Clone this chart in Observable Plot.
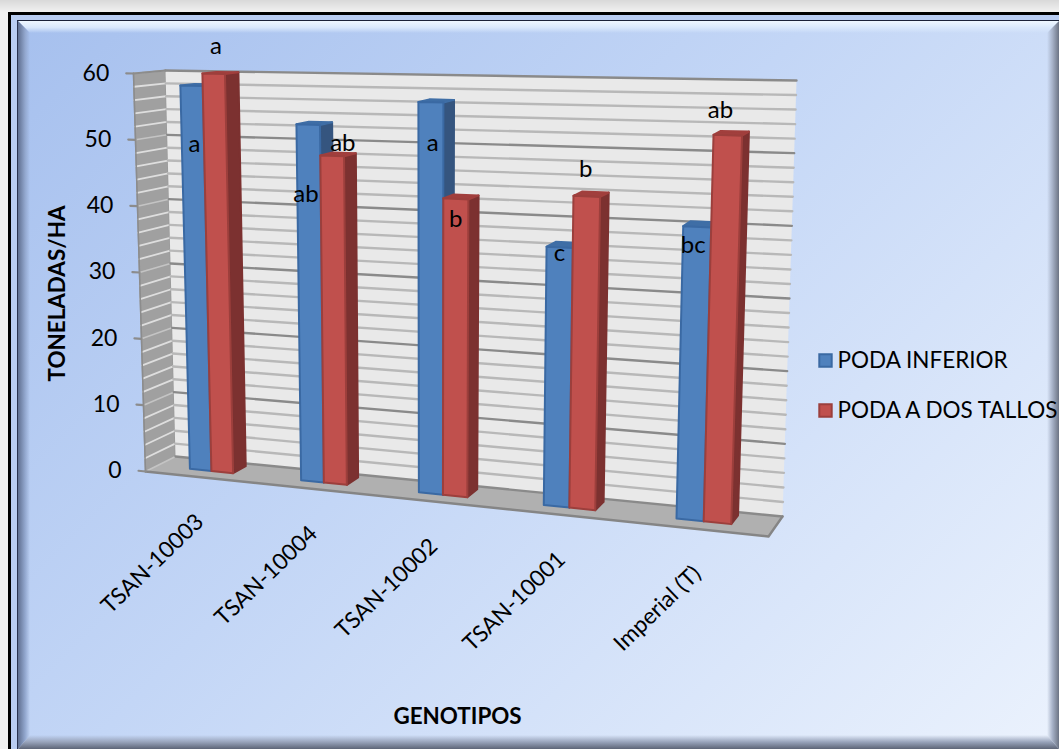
<!DOCTYPE html>
<html>
<head>
<meta charset="utf-8">
<script src="https://cdn.jsdelivr.net/npm/d3@7"></script>
<script src="https://cdn.jsdelivr.net/npm/@observablehq/plot@0.6"></script>
<style>
  html, body { margin: 0; padding: 0; width: 1059px; height: 749px; overflow: hidden; background: #ececec; }
  #sheet { position: absolute; left: 0; top: 0; width: 1059px; height: 749px; overflow: hidden;
           background: linear-gradient(180deg, #d9d9d9 0, #f1f1f1 12px); }
  #outer { position: absolute; left: 8px; top: 12px; width: 1060px; height: 750px; box-sizing: border-box;
           border: 3px solid #000; background: #b9cdf2; }
  #panel { position: absolute; left: 17px; top: 20px; right: 0; bottom: 0; border-left: 1.5px solid #2a3350; border-top: 1.5px solid #1b2238;
           background: linear-gradient(135deg, #a6c0ee 0%, #c3d6f6 45%, #ebf2fd 100%); }
  .bevel { position: absolute; }
  #bevelT { left: 0; right: 0; top: 0; height: 12px; clip-path: polygon(0 0, 100% 0, calc(100% - 12px) 100%, 12px 100%);
            background: linear-gradient(180deg, #eef7ff, #d9e8fc 55%, rgba(190,210,245,0)); }
  #bevelL { left: 0; top: 0; bottom: 0; width: 12px; clip-path: polygon(0 0, 100% 12px, 100% calc(100% - 14px), 0 100%);
            background: linear-gradient(90deg, #5f6f90, #93a8cf 60%, rgba(170,195,240,0)); }
  #bevelR { right: 0; top: 0; bottom: 0; width: 12px; clip-path: polygon(0 12px, 100% 0, 100% 100%, 0 calc(100% - 14px));
            background: linear-gradient(270deg, #6c7484, #a7b2c8 55%, rgba(215,225,245,0)); }
  #bevelB { left: 0; right: 0; bottom: 0; height: 14px; clip-path: polygon(12px 0, calc(100% - 12px) 0, 100% 100%, 0 100%);
            background: linear-gradient(0deg, #5d6577, #98a3ba 50%, rgba(215,225,245,0)); }
  #chart { position: absolute; left: 0; top: 0; }
</style>
</head>
<body>
<div id="sheet">
  <div id="outer"></div>
  <div id="panel">
    <div class="bevel" id="bevelT"></div>
    <div class="bevel" id="bevelL"></div>
    <div class="bevel" id="bevelR"></div>
    <div class="bevel" id="bevelB"></div>
  </div>
  <div id="chart"></div>
</div>
<script>
// Yield by genotype and pruning system
const genotypes = ["TSAN-10003", "TSAN-10004", "TSAN-10002", "TSAN-10001", "Imperial (T)"];
const podaInferior = [58.1, 52.75, 56.5, 36.5, 40.3];
const podaDosTallos = [60, 48.25, 42.7, 43.85, 53];
const letrasInferior = ["a", "ab", "a", "c", "bc"];
const letrasDosTallos = ["a", "ab", "b", "b", "ab"];
// Height of each significance letter on the value axis
const alturaInferior = [49.3, 42.4, 50.6, 35.6, 37.7];
const alturaDosTallos = [64.2, 50.1, 39.8, 47.7, 56.4];
const yTicks = [0, 10, 20, 30, 40, 50, 60];
const minorTicks = d3.range(0, 61, 2);
const seriesNames = ["PODA INFERIOR", "PODA A DOS TALLOS"];

const font = "Lato, 'Open Sans', sans-serif";
const W = 1059, H = 749;

// Box corners of the 3-D plot area: front plane (depth 0) and back plane (depth 1)
const box = {
  f: {tl: [133, 73], bl: [145, 471], tr: [782, 88], br: [768, 536]},
  b: {tl: [165, 70], bl: [175, 456], tr: [796, 80], br: [782, 516]}
};
const mix = (a, b, t) => [a[0] + (b[0] - a[0]) * t, a[1] + (b[1] - a[1]) * t];
// Foreshortening along the category axis
const warp = u => u / (u + (1 - u) * 1.16);
// u: position along categories 0..1, v: axis value, w: depth 0..1
function project(u, v, w) {
  const t = warp(u), s = v / 60;
  const plane = p => mix(mix(p.bl, p.br, t), mix(p.tl, p.tr, t), s);
  const [x, y] = mix(plane(box.f), plane(box.b), w);
  return {x, y};
}
const poly = (...pts) => pts.map(p => project(...p));
const face = (pts, options) =>
  Plot.line(pts, {x: "x", y: "y", curve: "linear-closed", ...options});

// One cuboid per bar: side, top, then front so the front face sits on top
const BAR = 0.0395, W0 = 0.4, W1 = 0.85;
const palette = [
  {front: "#4f81bd", edge: "#3a69a3", side: "#35557f", top: "#3f6ea6"},
  {front: "#c0504d", edge: "#9c3f3c", side: "#7c3130", top: "#a13f3d"}
];
const barFaces = [];
[podaInferior, podaDosTallos].forEach((vals, s) => {
  vals.forEach((v, i) => {
    const u0 = (i + 0.5) / 5 - BAR + s * BAR, u1 = u0 + BAR, c = palette[s];
    const add = (name, pts, fill, stroke) =>
      pts.forEach(p => barFaces.push({...p, id: `${s}-${i}-${name}`, fill, stroke}));
    add("side", poly([u1, 0, W0], [u1, 0, W1], [u1, v, W1], [u1, v, W0]), c.side, c.side);
    add("top", poly([u0, v, W0], [u1, v, W0], [u1, v, W1], [u0, v, W1]), c.top, c.top);
    add("front", poly([u0, 0, W0], [u1, 0, W0], [u1, v, W0], [u0, v, W0]), c.front, c.edge);
  });
});

// Hand placement of the letters beside their bars
const nudgeInferior = [0.003, -0.005, 0.003, 0, -0.005];
const nudgeDosTallos = [0.005, 0.018, 0, -0.002, -0.011];

const letters = [
  ...letrasInferior.map((l, i) => ({l, ...project((i + 0.5) / 5 - BAR / 2 + nudgeInferior[i], alturaInferior[i], W0)})),
  ...letrasDosTallos.map((l, i) => ({l, ...project((i + 0.5) / 5 + BAR / 2 + nudgeDosTallos[i], alturaDosTallos[i], W0)}))
];

const backLines = v => poly([0, v, 1], [1, v, 1]);
const sideLines = v => poly([0, v, 0], [0, v, 1]);
const minorOnly = minorTicks.filter(v => v % 10 !== 0);

const legend = seriesNames.map((name, i) => ({name, i}));

const chart = Plot.plot({
  width: W,
  height: H,
  margin: 0,
  x: {domain: [0, W], range: [0, W], axis: null},
  y: {domain: [0, H], range: [0, H], axis: null},
  style: {background: "transparent", fontFamily: font},
  marks: [
    // Walls and floor
    face(poly([0, 0, 0], [0, 0, 1], [0, 60, 1], [0, 60, 0]), {fill: "#a0a0a0", stroke: "#9a9a9a"}),
    face(poly([0, 0, 1], [1, 0, 1], [1, 60, 1], [0, 60, 1]), {fill: "#e9e9e9", stroke: "none"}),
    face(poly([0, 0, 0], [1, 0, 0], [1, 0, 1], [0, 0, 1]), {fill: "#b0b0b0", stroke: "none"}),

    // Gridlines on the two walls
    ...minorOnly.map(v => Plot.line(sideLines(v), {x: "x", y: "y", stroke: "#dedede", strokeWidth: 1.8})),
    ...yTicks.map(v => Plot.line(sideLines(v), {x: "x", y: "y", stroke: "#c4c4c4", strokeWidth: 1.6})),
    ...minorOnly.map(v => Plot.line(backLines(v), {x: "x", y: "y", stroke: "#b8b8b8", strokeWidth: 2.4})),
    ...yTicks.map(v => Plot.line(backLines(v), {x: "x", y: "y", stroke: "#8a8a8a", strokeWidth: 2.4})),

    // Floor outline and axis edge
    Plot.line(poly([0, 0, 0], [1, 0, 0], [1, 0, 1]), {x: "x", y: "y", stroke: "#858585", strokeWidth: 2.4}),
    Plot.line(poly([0, 0, 0], [0, 60, 0]), {x: "x", y: "y", stroke: "#8c8c8c", strokeWidth: 1.5}),
    Plot.line(poly([0, 60, 0], [0, 60, 1]), {x: "x", y: "y", stroke: "#8c8c8c", strokeWidth: 2.2}),

    // Value ticks and their labels
    ...yTicks.map(v => Plot.line(poly([-0.013, v, 0], [0, v, 0]), {x: "x", y: "y", stroke: "#8c8c8c", strokeWidth: 2.2})),
    Plot.text(yTicks.map(v => ({v, ...project(-0.013, v, 0)})), {
      x: "x", y: "y", text: "v", textAnchor: "end", dx: -17, fontSize: 23, fill: "#000"
    }),

    // Bars
    Plot.line(barFaces, {
      x: "x", y: "y", z: "id", curve: "linear-closed",
      fill: "fill", stroke: "stroke", strokeWidth: 2
    }),

    // Significance letters
    Plot.text(letters, {x: "x", y: "y", text: "l", fontSize: 24, fill: "#000"}),

    // Genotype labels under the floor
    Plot.text(genotypes.map((g, i) => ({g, ...project((i + 0.5) / 5, 0, 0)})), {
      x: "x", y: "y", text: "g", rotate: -44, textAnchor: "end",
      dx: 0, dy: 41, fontSize: 22.6, fill: "#000"
    }),

    // Axis titles
    Plot.text(["TONELADAS/HA"], {
      frameAnchor: "top-left", dx: 57, dy: 293, rotate: -90, textAnchor: "middle", lineAnchor: "middle",
      fontSize: 22.4, fontWeight: 700, fill: "#000"
    }),
    Plot.text(["GENOTIPOS"], {
      frameAnchor: "top-left", dx: 457, dy: 716, textAnchor: "middle", lineAnchor: "middle",
      fontSize: 22.4, fontWeight: 700, fill: "#000"
    }),

    // Legend
    Plot.dot(legend, {
      x: () => 825, y: d => 360 + d.i * 50, symbol: "square", r: 7, strokeWidth: 2,
      fill: d => palette[d.i].front, stroke: d => palette[d.i].edge
    }),
    Plot.text(legend, {
      x: () => 837, y: d => 360 + d.i * 50, text: "name", textAnchor: "start",
      fontSize: 22.5, fill: "#000"
    })
  ]
});
document.getElementById("chart").append(chart);
</script>
</body>
</html>
